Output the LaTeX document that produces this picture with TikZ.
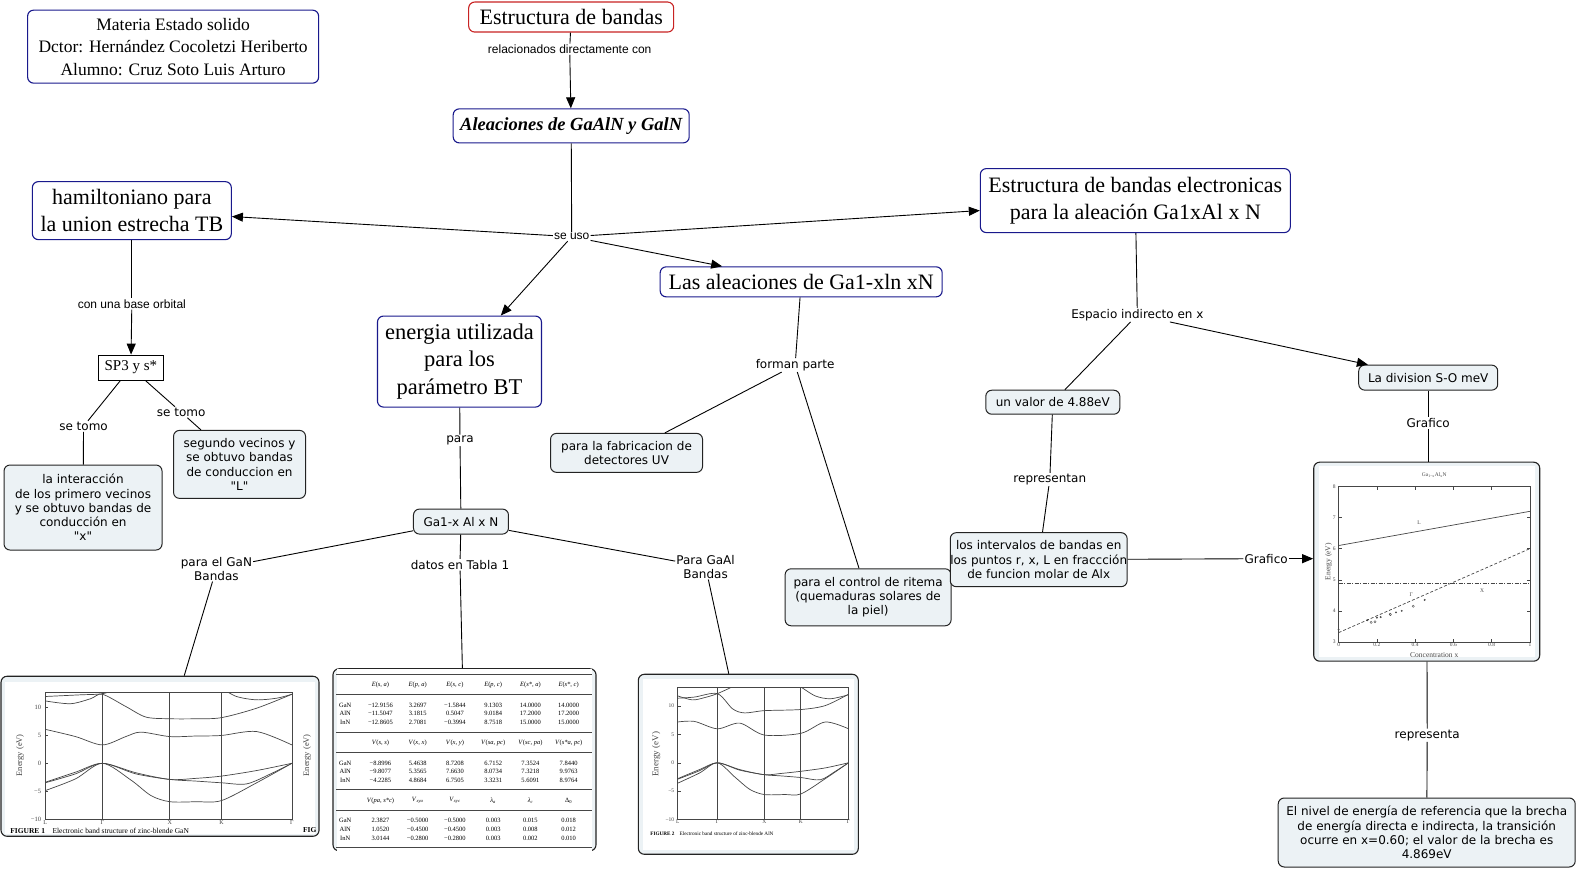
\documentclass[tikz,border=0pt]{standalone}
\usepackage{fontspec}
\setmainfont{Liberation Serif}
\newfontfamily\vfont{DejaVu Sans}
\newfontfamily\afont{Liberation Sans}
\usetikzlibrary{arrows.meta}
\definecolor{cblue}{RGB}{25,25,140}
\definecolor{cred}{RGB}{200,35,35}
\definecolor{cfill}{RGB}{236,242,245}
\definecolor{cdark}{RGB}{35,35,35}
\definecolor{plotgray}{RGB}{70,70,70}
\tikzset{
  topic/.style={draw=cblue, line width=1.1pt, rounded corners=6pt, fill=white, align=center, inner sep=0pt, font=\fontsize{22}{27}\selectfont},
  redtopic/.style={topic, draw=cred},
  note/.style={draw=cdark, line width=1pt, rounded corners=6pt, fill=cfill, align=center, inner sep=0pt, font=\vfont\fontsize{12}{14.3}\selectfont},
  lbl/.style={inner sep=1pt, align=center, font=\vfont\fontsize{12}{14}\selectfont},
  albl/.style={inner sep=1pt, align=center, font=\afont\fontsize{12}{14}\selectfont},
  conn/.style={line width=0.9pt, draw=black},
  arr/.style={conn, -{Triangle[length=11pt,width=9pt]}},
  imgbox/.style={draw=cdark, line width=1.1pt, rounded corners=6pt, fill=cfill, inner sep=0pt},
  band/.style={draw=plotgray, line width=0.7pt},
  kline/.style={draw=plotgray, line width=1pt},
  tcell/.style={inner sep=0pt, font=\fontsize{6.5}{7}\selectfont},
  tiny/.style={inner sep=0pt, font=\fontsize{6}{7}\selectfont, text=plotgray},
}
\newcommand\tabrow[8]{%
  \node[tcell] at (343,#1) {#2};
  \node[tcell] at (378,#1) {#3};
  \node[tcell] at (415,#1) {#4};
  \node[tcell] at (452,#1) {#5};
  \node[tcell] at (490,#1) {#6};
  \node[tcell] at (527,#1) {#7};
  \node[tcell] at (565,#1) {#8};}
\begin{document}
\begin{tikzpicture}[x=1.0065pt,y=-1.003pt]
\useasboundingbox[fill=white] (0pt,0pt) rectangle (1577pt,-869pt);

% ---------- concepts ----------
\node[topic, minimum width=291pt, minimum height=73pt, font=\fontsize{17.5}{22.5}\selectfont] (materia) at (172,46.5)
  {Materia Estado solido\\Dctor: Hernández Cocoletzi Heriberto\\Alumno: Cruz Soto Luis Arturo};
\node[redtopic, minimum width=205pt, minimum height=30pt] (estr) at (567.5,17) {Estructura de bandas};
\node[albl] (lbl1) at (566,49) {relacionados directamente con};
\node[topic, minimum width=236pt, minimum height=34pt, font=\fontsize{18.5}{22}\selectfont\bfseries\itshape] (alea) at (567.5,125.5) {Aleaciones de GaAlN y GalN};
\node[albl] (seuso) at (568,236) {se uso};
\node[topic, minimum width=199pt, minimum height=58pt] (hamil) at (131,210) {hamiltoniano para\\la union estrecha TB};
\node[albl] (lbl2) at (131,303) {con una base orbital};
\node[draw=black, line width=1pt, fill=white, inner sep=0pt, minimum width=65pt, minimum height=25pt, font=\fontsize{15}{18}\selectfont] (sp3) at (130,366.5) {SP3 y s*};
\node[lbl] (setomo1) at (83,425) {se tomo};
\node[lbl] (setomo2) at (180,411) {se tomo};
\node[note, minimum width=158pt, minimum height=85pt] (inter) at (82.5,506)
  {la interacción\\ de los primero vecinos\\y se obtuvo bandas de\\conducción en\\"x"};
\node[note, minimum width=132pt, minimum height=68pt] (segundo) at (238,463)
  {segundo vecinos y\\se obtuvo bandas\\de conduccion en\\"L"};
\node[topic, minimum width=164pt, minimum height=91pt, font=\fontsize{22.5}{27.5}\selectfont] (energia) at (456.5,360.5) {energia utilizada\\para los\\parámetro BT};
\node[lbl] (para) at (457,439) {para};
\node[note, minimum width=95pt, minimum height=25pt] (ga1x) at (458,520) {Ga1-x Al x N};
\node[lbl] (paraGaN) at (215,567) {para el GaN\\Bandas};
\node[lbl] (datos) at (457,563) {datos en Tabla 1};
\node[lbl] (paraGaAl) at (701,565) {Para GaAl\\Bandas};
\node[topic, minimum width=282pt, minimum height=30pt] (lasalea) at (796,281) {Las aleaciones de Ga1-xln xN};
\node[lbl] (forman) at (790,364) {forman parte};
\node[note, minimum width=152pt, minimum height=39pt] (fabric) at (622.5,451.5) {para la fabricacion de\\detectores UV};
\node[note, minimum width=166pt, minimum height=57pt] (control) at (862.5,595.5) {para el control de ritema\\(quemaduras solares de\\la piel)};
\node[topic, minimum width=310pt, minimum height=64pt] (estrelec) at (1128,200) {Estructura de bandas electronicas\\para la aleación Ga1xAl x N};
\node[lbl] (espacio) at (1130,314) {Espacio indirecto en x};
\node[note, minimum width=134pt, minimum height=24pt] (valor) at (1046,401) {un valor de 4.88eV};
\node[lbl] (representan) at (1043,478) {representan};
\node[note, minimum width=165pt, minimum height=54pt] (intervalos) at (1032,558) {los intervalos de bandas en\\los puntos r, x, L en fraccción\\de funcion molar de Alx};
\node[lbl] (grafico1) at (1258,557) {Grafico};
\node[note, minimum width=139pt, minimum height=25pt] (division) at (1419,376.5) {La division S-O meV};
\node[lbl] (grafico2) at (1419,422) {Grafico};
\node[lbl] (representa) at (1418,733) {representa};
\node[note, minimum width=297pt, minimum height=69pt] (bottom) at (1417.5,830)
  {El nivel de energía de referencia que la brecha\\de energía directa e indirecta, la transición\\ocurre en x=0.60; el valor de la brecha es\\4.869eV};

% ---------- image boxes ----------
\node[imgbox, minimum width=318pt, minimum height=160pt] (gan) at (159,754) {};
\node[imgbox, minimum width=263pt, minimum height=182pt] (tabla) at (461.5,757.5) {};
\node[imgbox, minimum width=220pt, minimum height=180pt] (aln) at (743.5,762) {};
\node[imgbox, minimum width=226pt, minimum height=199pt] (graph) at (1417.5,560) {};

% ---------- connectors ----------
\draw[conn] (estr) -- (lbl1);
\draw[arr] (lbl1) -- (alea);
\draw[conn] (alea) -- (seuso);
\draw[arr] (seuso) -- (hamil);
\draw[arr] (seuso) -- (estrelec);
\draw[arr] (seuso) -- (lasalea);
\draw[arr] (seuso) -- (energia);
\draw[conn] (hamil) -- (lbl2);
\draw[arr] (lbl2) -- (sp3);
\draw[conn] (sp3) -- (setomo1);
\draw[conn] (setomo1) -- (inter);
\draw[conn] (sp3) -- (setomo2);
\draw[conn] (setomo2) -- (segundo);
\draw[conn] (energia) -- (para);
\draw[conn] (para) -- (ga1x);
\draw[conn] (ga1x) -- (paraGaN);
\draw[conn] (paraGaN) -- (gan);
\draw[conn] (ga1x) -- (datos);
\draw[conn] (datos) -- (tabla);
\draw[conn] (ga1x) -- (paraGaAl);
\draw[conn] (paraGaAl) -- (aln);
\draw[conn] (lasalea) -- (forman);
\draw[conn] (forman) -- (fabric);
\draw[conn] (forman) -- (control);
\draw[conn] (estrelec) -- (espacio);
\draw[conn] (espacio) -- (valor);
\draw[arr] (espacio) -- (division);
\draw[conn] (valor) -- (representan);
\draw[conn] (representan) -- (intervalos);
\draw[conn] (intervalos) -- (grafico1);
\draw[arr] (grafico1) -- (grafico1 -| graph.west);
\draw[conn] (division) -- (grafico2);
\draw[conn] (grafico2) -- (grafico2 |- graph.north);
\draw[conn] (graph) -- (representa);
\draw[conn] (representa) -- (bottom);

% ---------- GaN band structure ----------
\fill[white] (5,680) rectangle (313,831);
\begin{scope}
  \clip (45,690) rectangle (290,817);
  \begin{scope}[shift={(0,761)},yscale=-5.55]
    \draw[band] plot[smooth] coordinates {(45,-3.4) (75,-1.6) (101.7,0) (135,-1.7) (168.7,-2.9) (195,-2.7) (220,-2.3) (255,-1.3) (290,0)};
    \draw[band] plot[smooth] coordinates {(45,-3.5) (75,-1.9) (101.7,0) (135,-1.9) (168.7,-2.9) (195,-3.2) (220,-3.5) (245,-3.7) (270,-1.8) (290,0)};
    \draw[band] plot[smooth] coordinates {(45,-4.9) (75,-2.8) (101.7,0) (130,-3.0) (150,-5.8) (168.7,-6.9) (195,-6.9) (220,-6.7) (255,-3.5) (290,0)};
    \draw[band] plot[smooth] coordinates {(45,6.1) (75,4.8) (101.7,3.3) (125,4.8) (140,5.6) (168.7,4.8) (195,4.9) (220,5.0) (255,5.7) (290,3.3)};
    \draw[band] plot[smooth] coordinates {(45,11.2) (70,10.7) (90,11.6) (101.7,12.4) (125,10.2) (145,8.3) (168.7,8.0) (195,8.0) (220,8.2) (255,9.9) (290,12.4)};
    \draw[band] plot[smooth] coordinates {(45,12.0) (80,12.3) (101.7,12.5) (120,13.5)};
    \draw[band] plot[smooth] coordinates {(220,13.5) (235,12.0) (255,11.4) (275,11.7) (290,12.4)};
  \end{scope}
\end{scope}
\draw[plotgray, line width=0.6pt] (45,690) rectangle (290,817);
\foreach \xk in {101.7,168.7,220} \draw[kline] (\xk,690) -- (\xk,817);
\foreach \ev/\lab in {10/10,5/5,0/0,-5/−5,-10/−10} {
  \draw[plotgray, line width=0.5pt] (45,761-5.55*\ev) -- (48,761-5.55*\ev);
  \node[tiny, anchor=east, font=\fontsize{6.5}{7}\selectfont] at (41,761-5.55*\ev) {\lab};}
\foreach \xk/\lab in {45/L,101.7/Γ,168.7/X,220/K,290/Γ}
  \node[tiny, anchor=north] at (\xk,817.5) {\lab};
\node[tiny, rotate=90, font=\fontsize{8.5}{9}\selectfont] at (20,753) {Energy (eV)};
\node[tiny, rotate=90, font=\fontsize{8.5}{9}\selectfont] at (305,753) {Energy (eV)};
\node[tiny, anchor=west, font=\fontsize{7.5}{8}\selectfont, text=black] at (10,828) {\textbf{FIGURE 1}\quad Electronic band structure of zinc-blende GaN};
\node[tiny, anchor=west, font=\fontsize{7.5}{8}\selectfont\bfseries, text=black] at (301,828) {FIG};

% ---------- table ----------
\fill[white] (335,667) rectangle (588,849);
\foreach \yr/\lw in {672/0.5,692/0.9,729.7/0.5,749.7/0.5,787.4/0.9,807.4/0.5,845.1/0.9}
  \draw[plotgray, line width=\lw pt] (334,\yr) -- (588,\yr);
\tabrow{683}{}{\textit{E}(\textit{s, a})}{\textit{E}(\textit{p, a})}{\textit{E}(\textit{s, c})}{\textit{E}(\textit{p, c})}{\textit{E}(\textit{s*, a})}{\textit{E}(\textit{s*, c})}
\tabrow{703}{GaN}{−12.9156}{3.2697}{−1.5844}{9.1303}{14.0000}{14.0000}
\tabrow{711.5}{AlN}{−11.5047}{3.1815}{0.5047}{9.0184}{17.2000}{17.2000}
\tabrow{720}{InN}{−12.8605}{2.7081}{−0.3994}{8.7518}{15.0000}{15.0000}
\tabrow{740.7}{}{\textit{V}(\textit{s, s})}{\textit{V}(\textit{x, x})}{\textit{V}(\textit{x, y})}{\textit{V}(\textit{sa, pc})}{\textit{V}(\textit{sc, pa})}{\textit{V}(\textit{s*a, pc})}
\tabrow{760.7}{GaN}{−8.8996}{5.4638}{8.7208}{6.7152}{7.3524}{7.8440}
\tabrow{769.2}{AlN}{−9.8077}{5.3565}{7.6630}{8.0734}{7.3218}{9.9763}
\tabrow{777.7}{InN}{−4.2285}{4.8684}{6.7505}{3.3231}{5.6091}{8.9764}
\tabrow{798.4}{}{\textit{V}(\textit{pa, s*c})}{\textit{V}\textsubscript{\textit{xya}}}{\textit{V}\textsubscript{\textit{xyc}}}{\textit{λ}\textsubscript{\textit{a}}}{\textit{λ}\textsubscript{\textit{c}}}{Δ\textsubscript{0}}
\tabrow{818.4}{GaN}{2.3827}{−0.5000}{−0.5000}{0.003}{0.015}{0.018}
\tabrow{826.9}{AlN}{1.0520}{−0.4500}{−0.4500}{0.003}{0.008}{0.012}
\tabrow{835.4}{InN}{3.0144}{−0.2800}{−0.2800}{0.003}{0.002}{0.010}

% ---------- AlN band structure ----------
\fill[white] (639,677) rectangle (848,847);
\begin{scope}
  \clip (673.3,685) rectangle (843,817);
  \begin{scope}[shift={(0,760.5)},yscale=-5.65]
    \draw[band] plot[smooth] coordinates {(673.3,-2.8) (695,-1.2) (712.7,0) (735,-1.2) (759.3,-2.1) (775,-1.9) (795.7,-1.5) (820,-0.9) (843,0)};
    \draw[band] plot[smooth] coordinates {(673.3,-2.9) (695,-1.4) (712.7,0) (735,-1.3) (759.3,-2.1) (775,-2.3) (795.7,-2.6) (815,-3.0) (830,-1.5) (843,0)};
    \draw[band] plot[smooth] coordinates {(673.3,-3.6) (695,-1.8) (712.7,0) (730,-2.5) (745,-4.7) (759.3,-5.6) (780,-5.6) (795.7,-5.5) (820,-2.8) (843,0)};
    \draw[band] plot[smooth] coordinates {(673.3,7.2) (690,7.3) (712.7,6.0) (735,7.0) (759.3,4.9) (795.7,5.2) (820,7.2) (843,6.0)};
    \draw[band] plot[smooth] coordinates {(673.3,11.4) (690,11.6) (712.7,12.2) (728,9.5) (740,8.8) (759.3,9.2) (795.7,9.4) (820,10.1) (843,12.1)};
    \draw[band] plot[smooth] coordinates {(673.3,11.8) (688,11.1) (700,11.5) (712.7,12.2) (730,13.6)};
    \draw[band] plot[smooth] coordinates {(795.7,13.4) (810,11.8) (825,11.3) (843,12.0)};
  \end{scope}
\end{scope}
\draw[plotgray, line width=0.6pt] (673.3,685) rectangle (843,817);
\foreach \xk in {712.7,759.3,795.7} \draw[kline] (\xk,685) -- (\xk,817);
\foreach \ev/\lab in {10/10,5/5,0/0,-5/−5,-10/−10} {
  \draw[plotgray, line width=0.5pt] (673.3,760.5-5.65*\ev) -- (676.3,760.5-5.65*\ev);
  \node[tiny, anchor=east, font=\fontsize{5.5}{6}\selectfont] at (670,760.5-5.65*\ev) {\lab};}
\foreach \xk/\lab in {673.3/L,712.7/Γ,759.3/X,795.7/K,843/Γ}
  \node[tiny, anchor=north, font=\fontsize{5.5}{6}\selectfont] at (\xk,817.5) {\lab};
\node[tiny, rotate=90, font=\fontsize{9}{10}\selectfont] at (652,752) {Energy (eV)};
\node[tiny, anchor=west, font=\fontsize{5.2}{6}\selectfont, text=black] at (646,831) {\textbf{FIGURE 2}\quad Electronic band structure of zinc-blende AlN};

% ---------- graph Ga(1-x)Al(x)N ----------
\fill[white] (1310,465) rectangle (1525,655);
\node[tiny, font=\fontsize{5.5}{6}\selectfont] at (1425,474) {Ga\textsubscript{1−x}Al\textsubscript{x}N};
\draw[plotgray, line width=0.6pt] (1330,485) rectangle (1520,640);
\begin{scope}[shift={(1330,733)},xscale=190,yscale=-31]
  \foreach \c/\lab in {0/0,0.2/0.2,0.4/0.4,0.6/0.6,0.8/0.8,1/1} {
    \draw[plotgray, line width=0.4pt] (\c,3) -- (\c,3.1);
    \draw[plotgray, line width=0.4pt] (\c,8) -- (\c,7.9);
    \node[tiny, anchor=north, font=\fontsize{5.5}{6}\selectfont] at (\c,2.97) {\lab};}
  \foreach \ev in {3,4,5,6,7,8} {
    \draw[plotgray, line width=0.4pt] (0,\ev) -- (0.015,\ev);
    \draw[plotgray, line width=0.4pt] (1,\ev) -- (0.985,\ev);
    \node[tiny, anchor=east, font=\fontsize{5.5}{6}\selectfont] at (-0.015,\ev) {\ev};}
  \draw[plotgray, line width=0.7pt] (0,6.1) -- (1,7.2);
  \draw[plotgray, line width=0.7pt, dash pattern=on 3pt off 2pt] (0,3.3) -- (1,6.0);
  \draw[plotgray, line width=0.7pt, dash pattern=on 4pt off 1.5pt on 1pt off 1.5pt] (0,4.9) -- (1,4.9);
  \node[tiny, font=\fontsize{5.5}{6}\selectfont] at (0.42,6.82) {L};
  \node[tiny, font=\fontsize{5.5}{6}\selectfont] at (0.38,4.53) {Γ};
  \node[tiny, font=\fontsize{5.5}{6}\selectfont] at (0.75,4.65) {X};
  \foreach \c/\ev in {0/3.4,0.15/3.7,0.2/3.78,0.22/3.8,0.27/3.9,0.3/3.95,0.33/4.0,0.45/4.35}
    \node[circle, fill=plotgray, inner sep=0.75pt] at (\c,\ev) {};
  \foreach \c/\ev in {0.17/3.63,0.19/3.65,0.27/3.88,0.39/4.15}
    \node[circle, draw=plotgray, fill=white, line width=0.4pt, inner sep=0.8pt] at (\c,\ev) {};
\end{scope}
\node[tiny, font=\fontsize{7.5}{8}\selectfont] at (1425,653) {Concentration x};
\node[tiny, rotate=90, font=\fontsize{7.5}{8}\selectfont] at (1320,560) {Energy (eV)};
\end{tikzpicture}
\end{document}
